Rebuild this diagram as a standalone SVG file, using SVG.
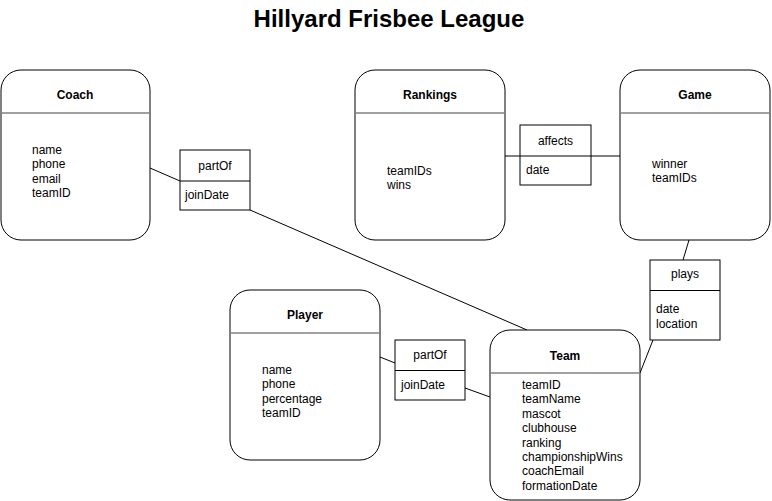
<svg xmlns="http://www.w3.org/2000/svg" width="772" height="501" viewBox="0 0 772 501">
<style>
.ent{fill:#fff;stroke:#000;stroke-width:1}
.div{stroke:#808080;stroke-width:1.5}
.rel{fill:#fff;stroke:#000;stroke-width:1}
.rdiv{stroke:#000;stroke-width:1}
.conn{stroke:#000;stroke-width:1;fill:none}
text{font-family:"Liberation Sans",Arial,Helvetica,sans-serif;font-size:12px;fill:#000}
.h{font-weight:bold;text-anchor:middle}
.c{text-anchor:middle}
.title{font-size:24px;font-weight:bold;text-anchor:middle}
</style>
<rect width="772" height="501" fill="#fff"/>
<text class="title" x="389" y="27">Hillyard Frisbee League</text>

<g id="connectors">
<line class="conn" x1="150" y1="168" x2="180" y2="181"/>
<line class="conn" x1="250" y1="210" x2="527" y2="330"/>
<line class="conn" x1="505" y1="156" x2="520" y2="156"/>
<line class="conn" x1="591" y1="156" x2="620" y2="156"/>
<line class="conn" x1="689" y1="240" x2="683" y2="260"/>
<line class="conn" x1="640" y1="373" x2="653" y2="340"/>
<line class="conn" x1="380" y1="357" x2="395" y2="363"/>
<line class="conn" x1="465" y1="388" x2="490" y2="397"/>
</g>

<g id="coach">
<rect class="ent" x="1" y="70" width="149" height="170" rx="20" ry="20"/>
<line class="div" x1="1" y1="113" x2="150" y2="113"/>
<text class="h" x="75" y="99">Coach</text>
<text x="32" y="153.5">name</text>
<text x="32" y="168">phone</text>
<text x="32" y="182.5">email</text>
<text x="32" y="196.5">teamID</text>
</g>

<g id="partOf-coach">
<rect class="rel" x="180" y="150" width="70" height="60"/>
<line class="rdiv" x1="180" y1="181" x2="250" y2="181"/>
<text class="c" x="215" y="170">partOf</text>
<text x="185" y="199">joinDate</text>
</g>

<g id="rankings">
<rect class="ent" x="355" y="70" width="150" height="170" rx="20" ry="20"/>
<line class="div" x1="355" y1="113" x2="505" y2="113"/>
<text class="h" x="430" y="99">Rankings</text>
<text x="387" y="174.5">teamIDs</text>
<text x="387" y="189">wins</text>
</g>

<g id="affects">
<rect class="rel" x="520" y="125" width="71" height="60"/>
<line class="rdiv" x1="520" y1="156" x2="591" y2="156"/>
<text class="c" x="555.5" y="145">affects</text>
<text x="526" y="174">date</text>
</g>

<g id="game">
<rect class="ent" x="620" y="70" width="150" height="170" rx="20" ry="20"/>
<line class="div" x1="620" y1="113" x2="770" y2="113"/>
<text class="h" x="695" y="99">Game</text>
<text x="652" y="167.5">winner</text>
<text x="652" y="182">teamIDs</text>
</g>

<g id="plays">
<rect class="rel" x="650" y="260" width="70" height="80"/>
<line class="rdiv" x1="650" y1="290.5" x2="720" y2="290.5"/>
<text class="c" x="685" y="278">plays</text>
<text x="656" y="313">date</text>
<text x="656" y="327.5">location</text>
</g>

<g id="player">
<rect class="ent" x="230" y="290" width="150" height="170" rx="20" ry="20"/>
<line class="div" x1="230" y1="333" x2="380" y2="333"/>
<text class="h" x="305" y="319">Player</text>
<text x="262" y="373.5">name</text>
<text x="262" y="388">phone</text>
<text x="262" y="402.5">percentage</text>
<text x="262" y="416.5">teamID</text>
</g>

<g id="partOf-player">
<rect class="rel" x="395" y="340" width="70" height="60"/>
<line class="rdiv" x1="395" y1="370.5" x2="465" y2="370.5"/>
<text class="c" x="430" y="359">partOf</text>
<text x="401" y="388.5">joinDate</text>
</g>

<g id="team">
<rect class="ent" x="490" y="330" width="150" height="170" rx="20" ry="20"/>
<line class="div" x1="490" y1="373" x2="640" y2="373"/>
<text class="h" x="565" y="359.5">Team</text>
<text x="522" y="389">teamID</text>
<text x="522" y="403.4">teamName</text>
<text x="522" y="417.8">mascot</text>
<text x="522" y="432.2">clubhouse</text>
<text x="522" y="446.6">ranking</text>
<text x="522" y="461">championshipWins</text>
<text x="522" y="475.4">coachEmail</text>
<text x="522" y="489.8">formationDate</text>
</g>
</svg>
